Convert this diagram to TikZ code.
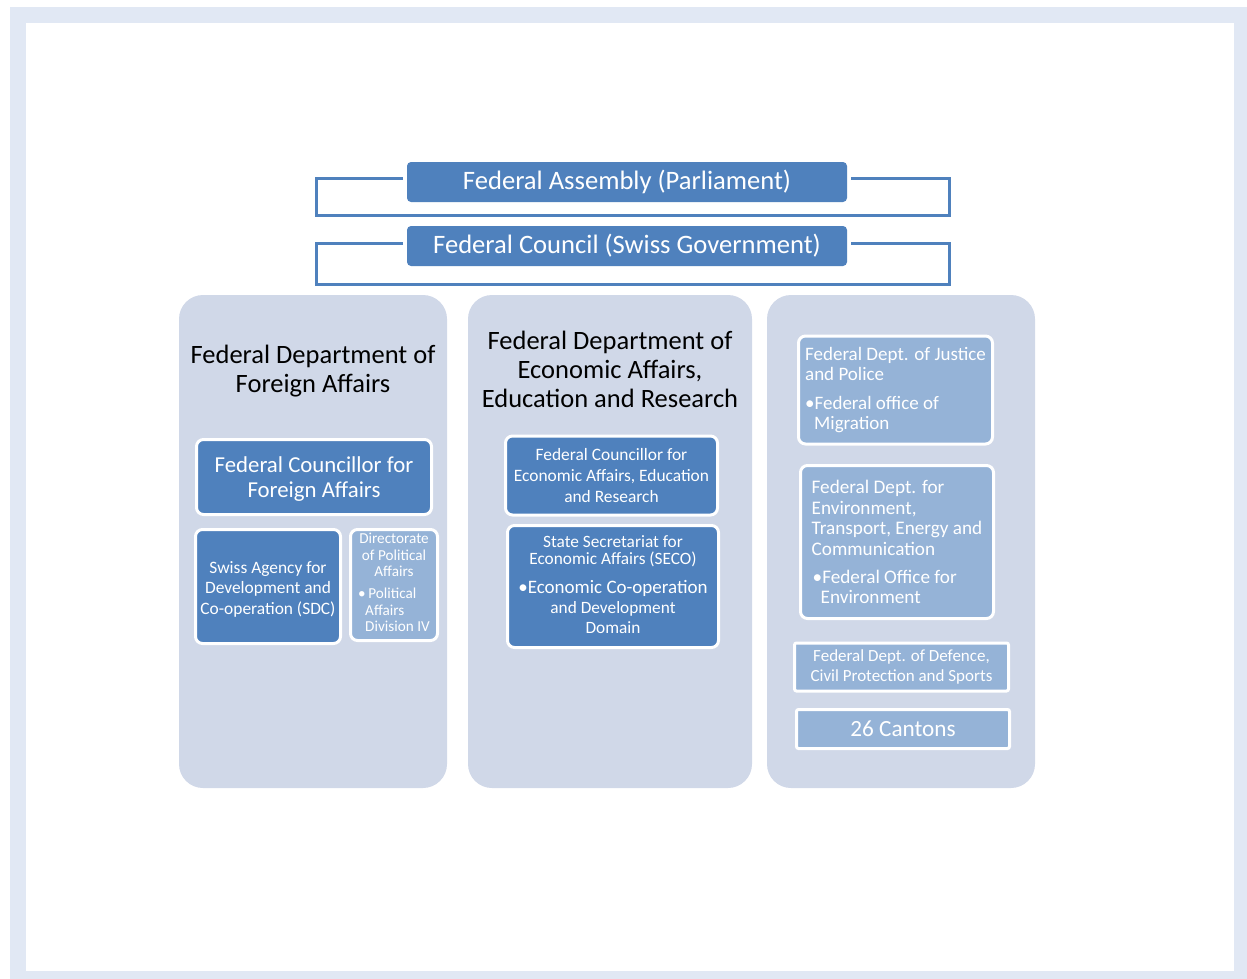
\documentclass[tikz,border=0pt]{standalone}
\usepackage{fontspec}
\setmainfont{Carlito}
\definecolor{frameblue}{HTML}{E1E8F4}
\definecolor{darkbox}{HTML}{4F81BD}
\definecolor{lightbox}{HTML}{95B3D7}
\definecolor{colbg}{HTML}{D0D8E8}
\definecolor{brk}{HTML}{4F81BD}
\tikzset{
  topbox/.style={fill=darkbox, rounded corners=4pt, text=white, inner sep=0pt},
  colbox/.style={fill=colbg, rounded corners=24pt, inner sep=0pt},
  dbox/.style={fill=darkbox, draw=white, line width=3pt, rounded corners=7pt, text=white, inner sep=1pt, align=center},
  lbox/.style={fill=lightbox, draw=white, line width=3pt, rounded corners=7pt, text=white, inner sep=1pt, align=center},
  sbox/.style={fill=lightbox, draw=white, line width=3pt, rounded corners=2pt, text=white, inner sep=1pt, align=center},
  bracket/.style={draw=brk, line width=3pt},
  title/.style={align=center, text=black, inner sep=0pt}
}
\begin{document}
\begin{tikzpicture}[x=1pt,y=-1pt]
\useasboundingbox (0,0) rectangle (1247,979);
\fill[white] (0,0) rectangle (1247,979);
\fill[frameblue] (10,7) rectangle (1247,979);
\fill[white] (26,23) rectangle (1234,971);

% brackets
\coordinate (b1a) at (403,178);
\coordinate (b1b) at (316,178);
\coordinate (b1c) at (316,215);
\coordinate (b1d) at (949,215);
\coordinate (b1e) at (949,178);
\coordinate (b1f) at (851,178);
\draw[bracket] (b1a) -- (b1b) -- (b1c) -- (b1d) -- (b1e) -- (b1f);
\coordinate (b2a) at (403,243);
\coordinate (b2b) at (316,243);
\coordinate (b2c) at (316,284);
\coordinate (b2d) at (949,284);
\coordinate (b2e) at (949,243);
\coordinate (b2f) at (851,243);
\draw[bracket] (b2a) -- (b2b) -- (b2c) -- (b2d) -- (b2e) -- (b2f);

\node[topbox, minimum width=440, minimum height=40, font=\fontsize{26.6}{30}\selectfont] (assembly) at (627,182) {Federal Assembly (Parliament)};
\node[topbox, minimum width=440, minimum height=40, font=\fontsize{26.6}{30}\selectfont] (council) at (627,246) {Federal Council (Swiss Government)};

% columns
\node[colbox, minimum width=268, minimum height=493] (col1) at (313,541.5) {};
\node[colbox, minimum width=284, minimum height=493] (col2) at (610,541.5) {};
\node[colbox, minimum width=268, minimum height=493] (col3) at (901,541.5) {};

\node[title, font=\fontsize{26.5}{29}\selectfont] (t1) at (313,371) {Federal Department of\\Foreign Affairs};
\node[title, font=\fontsize{26.5}{29}\selectfont] (t2) at (610,369) {Federal Department of\\Economic Affairs,\\Education and Research};

% column 1
\node[dbox, minimum width=235, minimum height=75, font=\fontsize{22.8}{24.5}\selectfont] (fcfa) at (314,477) {Federal Councillor for\\Foreign Affairs\\[-24.8pt]};
\node[dbox, minimum width=145, minimum height=114, font=\fontsize{17.4}{20.3}\selectfont] (sdc) at (268,586.5) {Swiss Agency for\\Development and\\Co-operation (SDC)\\[-23.3pt]};
\node[lbox, minimum width=87, minimum height=111, inner sep=0pt, font=\fontsize{15.2}{16.6}\selectfont] (dir) at (394,585)
  {Directorate\\of Political\\Affairs\\[9pt]
   \begin{tabular}{@{}l@{}}\textbullet\,Political\\\hspace*{7pt}Affairs\\\hspace*{7pt}Division IV\end{tabular}};

% column 2
\node[dbox, minimum width=212, minimum height=79, font=\fontsize{17.4}{20.8}\selectfont] (fcea) at (611.5,475.5) {Federal Councillor for\\Economic Affairs, Education\\and Research};
\node[dbox, minimum width=211, minimum height=122, font=\fontsize{17.3}{17.5}\selectfont] (seco) at (613,586.5)
  {State Secretariat for\\Economic Affairs (SECO)\\[11pt]
   \fontsize{19}{20.5}\selectfont\textbullet Economic Co-operation\\[2.5pt]and Development\\[2.5pt]Domain\\[-13pt]};

% column 3
\node[lbox, minimum width=194, minimum height=108, font=\fontsize{19}{20.5}\selectfont, align=left] (justice) at (895.5,390)
  {Federal Dept. of Justice\\and Police\\[8pt]
   \textbullet Federal office of\\\hspace*{9pt}Migration};
\node[lbox, minimum width=193, minimum height=153, font=\fontsize{19.2}{20.7}\selectfont, align=left] (env) at (897,542)
  {Federal Dept. for\\Environment,\\Transport, Energy and\\Communication\\[7pt]
   \hspace*{1pt}\textbullet Federal Office for\\\hspace*{9pt}Environment};
\node[sbox, minimum width=214, minimum height=48, font=\fontsize{17}{19.5}\selectfont] (def) at (901.5,667) {Federal Dept. of Defence,\\Civil Protection and Sports};
\node[sbox, minimum width=213, minimum height=39, font=\fontsize{23.2}{25}\selectfont] (cantons) at (903,729) {26 Cantons};
\end{tikzpicture}
\end{document}
